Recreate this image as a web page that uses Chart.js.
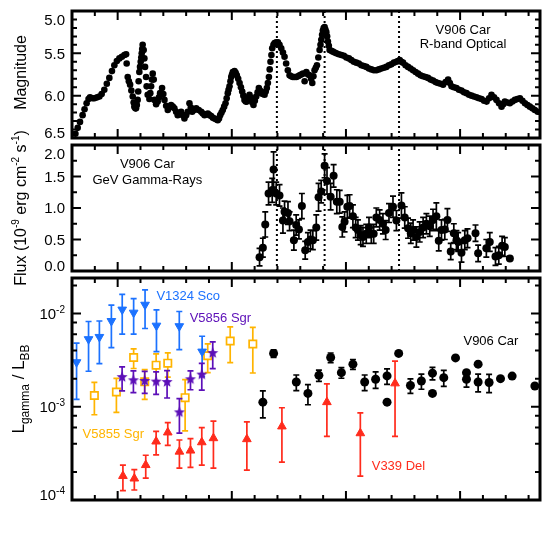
<!DOCTYPE html>
<html>
<head>
<meta charset="utf-8">
<script src="https://cdn.jsdelivr.net/npm/chart.js@4.4.0/dist/chart.umd.min.js"></script>
<style>
  html, body { margin: 0; padding: 0; background: #fff; }
  #wrap { position: relative; width: 554px; height: 554px; }
  #wrap canvas { position: absolute; left: 0; top: 0; }
</style>
</head>
<body>
<div id="wrap">
  <canvas id="optical" width="554" height="554"></canvas>
  <canvas id="gamma" width="554" height="554"></canvas>
  <canvas id="ratio" width="554" height="554"></canvas>
</div>
<script>
// V906 Car optical / gamma-ray light curves and gamma-to-optical ratio of several novae

// ---- shared x axis ----
const X_MIN = -4, X_MAX = 37;
const xTickLabels = [0, 10, 20, 30];
const peakDays = [13.95, 18.13, 24.65];   // dotted lines

// ---- top panel: R-band magnitude ----
const magTicks = [5.0, 5.5, 6.0, 6.5];
const optDay = [
  -3.95, -3.89, -3.7, -3.5, -3.3, -3.07, -2.9, -2.72, -2.55, -2.42, -2.2, -2.04, -1.8, -1.6, -1.4, -1.17,
  -0.95, -0.73, -0.5, -0.29, -0.07, 0.15, 0.37, 0.59, 0.74, 0.79, 0.88, 0.98, 1.09, 1.2, 1.32, 1.4,
  1.46, 1.55, 1.61, 1.68, 1.75, 1.8, 1.84, 1.9, 1.96, 2.02, 2.07, 2.11, 2.15, 2.19, 2.28, 2.34,
  2.4, 2.49, 2.54, 2.63, 2.78, 2.86, 2.93, 3.0, 3.07, 3.16, 3.22, 3.37, 3.51, 3.62, 3.72, 3.89,
  4.0, 4.1, 4.25, 4.39, 4.53, 4.68, 4.83, 4.97, 5.12, 5.26, 5.41, 5.56, 5.7, 5.85, 6.0, 6.14,
  6.29, 6.41, 6.53, 6.7, 6.88, 7.1, 7.32, 7.46, 7.61, 7.75, 7.9, 8.05, 8.19, 8.34, 8.48, 8.62,
  8.77, 8.88, 8.98, 9.1, 9.21, 9.33, 9.45, 9.55, 9.65, 9.72, 9.8, 9.88, 9.95, 10.02, 10.09, 10.24,
  10.34, 10.44, 10.56, 10.68, 10.8, 10.91, 11.01, 11.11, 11.22, 11.32, 11.45, 11.55, 11.62, 11.7, 11.8, 11.9,
  12.02, 12.14, 12.26, 12.37, 12.48, 12.58, 12.72, 12.87, 12.97, 13.07, 13.16, 13.25, 13.32, 13.39, 13.47, 13.54,
  13.65, 13.75, 13.9, 14.04, 14.18, 14.33, 14.48, 14.62, 14.76, 14.91, 15.06, 15.2, 15.35, 15.5, 15.65, 15.8,
  15.94, 16.08, 16.23, 16.38, 16.53, 16.68, 16.82, 16.95, 17.05, 17.15, 17.25, 17.36, 17.46, 17.58, 17.69, 17.77,
  17.84, 17.91, 17.98, 18.05, 18.13, 18.2, 18.28, 18.35, 18.42, 18.5, 18.57, 18.72, 18.86, 19.01, 19.16, 19.38,
  19.6, 19.82, 20.04, 20.26, 20.47, 20.69, 20.91, 21.13, 21.35, 21.57, 21.79, 22.01, 22.23, 22.45, 22.67, 22.88,
  23.1, 23.32, 23.54, 23.76, 23.98, 24.2, 24.42, 24.56, 24.71, 24.85, 25.0, 25.22, 25.44, 25.66, 25.88, 26.1,
  26.32, 26.53, 26.75, 26.97, 27.19, 27.41, 27.63, 27.85, 28.07, 28.29, 28.51, 28.73, 28.95, 29.1, 29.25, 29.46,
  29.68, 29.9, 30.12, 30.34, 30.56, 30.78, 31.0, 31.22, 31.44, 31.66, 31.88, 32.1, 32.32, 32.54, 32.75, 32.97,
  33.19, 33.41, 33.63, 33.78, 33.92, 34.14, 34.36, 34.58, 34.8, 35.02, 35.24, 35.46, 35.68, 35.9, 36.11, 36.33,
  36.55, 36.8
];
const optMag = [
  6.56, 6.52, 6.45, 6.38, 6.31, 6.23, 6.16, 6.09, 6.04, 6.02, 6.03, 6.03, 6.02, 6.01, 5.98, 5.93,
  5.86, 5.79, 5.71, 5.64, 5.59, 5.56, 5.54, 5.52, 5.51, 5.62, 5.78, 5.83, 5.87, 5.94, 6.01, 6.08,
  6.13, 6.15, 6.15, 6.11, 6.05, 5.95, 5.83, 5.72, 5.66, 5.60, 5.55, 5.50, 5.45, 5.40, 5.46, 5.56,
  5.66, 5.78, 5.89, 5.99, 6.04, 5.97, 5.89, 5.81, 5.74, 5.81, 6.05, 6.10, 6.07, 6.02, 5.97, 5.91,
  5.98, 6.05, 6.12, 6.17, 6.14, 6.11, 6.13, 6.15, 6.19, 6.23, 6.21, 6.19, 6.23, 6.27, 6.23, 6.19,
  6.09, 6.14, 6.19, 6.17, 6.15, 6.17, 6.19, 6.21, 6.23, 6.22, 6.21, 6.23, 6.24, 6.26, 6.27, 6.28,
  6.29, 6.27, 6.23, 6.20, 6.17, 6.13, 6.09, 6.03, 5.97, 5.93, 5.89, 5.83, 5.78, 5.75, 5.72, 5.71,
  5.73, 5.76, 5.80, 5.85, 5.90, 5.95, 6.00, 6.05, 6.07, 6.07, 6.02, 5.99, 6.02, 6.05, 6.08, 6.11,
  6.06, 6.01, 5.96, 5.91, 5.94, 5.97, 5.98, 5.99, 5.95, 5.91, 5.85, 5.78, 5.69, 5.60, 5.52, 5.44,
  5.40, 5.38, 5.37, 5.37, 5.40, 5.44, 5.49, 5.54, 5.62, 5.70, 5.76, 5.77, 5.78, 5.78, 5.78, 5.77,
  5.76, 5.75, 5.74, 5.83, 5.72, 5.75, 5.76, 5.80, 5.85, 5.77, 5.70, 5.67, 5.64, 5.55, 5.46, 5.40,
  5.34, 5.28, 5.23, 5.20, 5.19, 5.22, 5.25, 5.30, 5.36, 5.41, 5.46, 5.47, 5.48, 5.49, 5.50, 5.51,
  5.52, 5.53, 5.55, 5.56, 5.58, 5.60, 5.61, 5.62, 5.64, 5.65, 5.66, 5.68, 5.69, 5.70, 5.70, 5.69,
  5.68, 5.67, 5.66, 5.64, 5.63, 5.61, 5.60, 5.59, 5.58, 5.60, 5.61, 5.64, 5.66, 5.68, 5.70, 5.72,
  5.74, 5.76, 5.77, 5.78, 5.79, 5.81, 5.82, 5.84, 5.85, 5.86, 5.87, 5.84, 5.81, 5.85, 5.89, 5.90,
  5.91, 5.93, 5.94, 5.96, 5.97, 5.99, 6.00, 6.01, 6.02, 6.03, 6.04, 6.06, 6.07, 6.03, 5.99, 6.02,
  6.05, 6.09, 6.13, 6.10, 6.07, 6.08, 6.09, 6.07, 6.05, 6.04, 6.03, 6.06, 6.09, 6.11, 6.13, 6.15,
  6.17, 6.19
];

// ---- middle panel: GeV gamma-ray flux (1e-9 erg/cm2/s) ----
const fluxTicks = [0.0, 0.5, 1.0, 1.5, 2.0];
const gamDay = [
  12.43, 12.72, 12.93, 13.22, 13.54, 13.66, 13.89, 14.18, 14.48, 14.62, 14.92, 15.06, 15.44, 15.64, 15.88, 16.14,
  16.43, 16.67, 16.9, 17.1, 17.4, 17.6, 17.83, 18.13, 18.34, 18.66, 18.92, 19.2, 19.45, 19.68, 19.88, 20.12,
  20.32, 20.61, 20.85, 21.05, 21.29, 21.49, 21.78, 22.02, 22.22, 22.43, 22.66, 22.95, 23.24, 23.48, 23.77, 24.12,
  24.42, 24.86, 25.15, 25.44, 25.68, 25.88, 26.17, 26.46, 26.76, 27.05, 27.34, 27.63, 27.92, 28.13, 28.37, 28.66,
  28.89, 29.18, 29.45, 29.68, 29.83, 30.12, 30.41, 30.65, 31.35, 31.58, 32.3, 32.6, 33.1, 33.39, 33.68, 33.92,
  34.36
];
const gamFlux = [
  0.22, 0.37, 0.74, 1.23, 1.28, 1.61, 1.23, 1.20, 0.80, 0.94, 0.92, 0.79, 0.49, 0.73, 0.66, 1.03,
  0.33, 0.46, 0.50, 0.49, 0.69, 1.17, 1.26, 1.67, 1.43, 1.18, 1.51, 1.10, 1.10, 0.70, 0.78, 1.02,
  1.03, 0.87, 0.69, 0.65, 0.57, 0.54, 0.59, 0.69, 0.59, 0.59, 0.85, 0.81, 0.75, 0.65, 0.92, 1.02,
  0.80, 1.04, 0.85, 0.68, 0.60, 0.65, 0.54, 0.62, 0.69, 0.75, 0.71, 0.81, 0.87, 0.48, 0.65, 0.66,
  0.81, 0.31, 0.60, 0.49, 0.46, 0.29, 0.49, 0.52, 0.60, 0.28, 0.36, 0.46, 0.23, 0.25, 0.40, 0.38,
  0.20
];
const gamErr = [
  0.14, 0.15, 0.20, 0.18, 0.19, 0.28, 0.18, 0.17, 0.20, 0.17, 0.18, 0.15, 0.16, 0.16, 0.15, 0.20,
  0.14, 0.15, 0.15, 0.15, 0.20, 0.22, 0.18, 0.19, 0.21, 0.21, 0.18, 0.19, 0.18, 0.16, 0.16, 0.18,
  0.18, 0.18, 0.16, 0.16, 0.15, 0.15, 0.15, 0.16, 0.15, 0.15, 0.15, 0.16, 0.16, 0.15, 0.15, 0.17,
  0.16, 0.20, 0.17, 0.16, 0.16, 0.16, 0.16, 0.16, 0.16, 0.16, 0.16, 0.17, 0.21, 0.16, 0.16, 0.16,
  0.18, 0.13, 0.15, 0.15, 0.15, 0.15, 0.15, 0.15, 0.13, 0.13, 0.14, 0.15, 0.14, 0.14, 0.15, 0.15,
  0
];

// ---- bottom panel: L_gamma / L_BB ----
const ratioTicks = [1e-4, 1e-3, 1e-2];

const scoDay = [-3.6, -2.55, -1.6, -0.55, 0.4, 1.4, 2.4, 3.4, 5.4, 7.4];            // V1324 Sco
const scoVal = [3.0e-3, 5.3e-3, 5.6e-3, 8.3e-3, 1.1e-2, 1.02e-2, 1.24e-2, 7.4e-3, 7.3e-3, 3.9e-3];
const scoErr = [1.8e-3, 2.9e-3, 2.7e-3, 4.0e-3, 5.0e-3, 4.2e-3, 5.5e-3, 3.5e-3, 3.2e-3, 1.8e-3];

const sgr6Day = [0.39, 1.38, 2.37, 3.37, 4.33, 5.41, 6.38, 7.37, 8.33];              // V5856 Sgr
const sgr6Val = [2.08e-3, 1.92e-3, 1.89e-3, 1.86e-3, 1.84e-3, 8.7e-4, 1.97e-3, 2.21e-3, 3.76e-3];
const sgr6Err = [0.6e-3, 0.5e-3, 0.5e-3, 0.5e-3, 0.6e-3, 0.35e-3, 0.45e-3, 0.7e-3, 1.2e-3];

const sgr5Day = [-2.04, -0.11, 1.4, 2.37, 3.37, 4.39, 5.91, 7.89, 9.86, 11.84];       // V5855 Sgr
const sgr5Val = [1.32e-3, 1.44e-3, 3.37e-3, 1.85e-3, 2.79e-3, 2.93e-3, 1.25e-3, 3.52e-3, 5.07e-3, 4.7e-3];
const sgr5Err = [0.5e-3, 0.57e-3, 0.8e-3, 0.65e-3, 0.9e-3, 0.85e-3, 0.7e-3, 1.2e-3, 2.1e-3, 2.4e-3];

const delDay = [0.46, 1.46, 2.46, 3.37, 4.39, 5.41, 6.38, 7.37, 8.39, 11.32, 14.39, 18.33, 21.26, 24.3];   // V339 Del
const delVal = [1.81e-4, 1.7e-4, 2.37e-4, 4.24e-4, 5.3e-4, 3.3e-4, 3.39e-4, 4.16e-4, 4.6e-4, 4.49e-4, 6.15e-4, 1.12e-3, 5.2e-4, 1.78e-3];
const delErr = [0.55e-4, 0.42e-4, 0.65e-4, 1.2e-4, 1.45e-4, 1.1e-4, 1.15e-4, 1.8e-4, 2.4e-4, 2.4e-4, 3.6e-4, 6.4e-4, 3.4e-4, 1.3e-3];

const carDay = [12.72, 13.66, 15.65, 16.67, 17.63, 18.66, 19.6, 20.61, 21.64, 22.6, 23.6, 23.6, 24.62, 25.65,
  26.61, 27.58, 27.58, 28.57, 29.6, 30.56, 30.56, 31.58, 31.58, 32.54, 33.54, 34.56, 36.55];            // V906 Car
const carVal = [1.12e-3, 3.73e-3, 1.84e-3, 1.39e-3, 2.17e-3, 3.37e-3, 2.32e-3, 2.86e-3, 1.84e-3, 1.97e-3, 2.14e-3, 1.12e-3, 3.73e-3, 1.69e-3,
  1.89e-3, 2.29e-3, 1.39e-3, 2.05e-3, 3.34e-3, 2.32e-3, 1.97e-3, 2.86e-3, 1.84e-3, 1.82e-3, 2.0e-3, 2.13e-3, 1.67e-3];
const carErr = [0.36e-3, 0.35e-3, 0.35e-3, 0.34e-3, 0.3e-3, 0.4e-3, 0.3e-3, 0.35e-3, 0.35e-3, 0.4e-3, 0.4e-3, 0, 0, 0.3e-3,
  0.35e-3, 0.35e-3, 0, 0.4e-3, 0, 0, 0.35e-3, 0, 0.4e-3, 0.4e-3, 0, 0, 0];

// ---- styles ----
const FONT = "'Liberation Sans', Arial, Helvetica, sans-serif";
const BLUE = '#1c72ff', PURPLE = '#5c0fb8', GOLD = '#ffb400', RED = '#ff2b1c';

Chart.defaults.font.family = FONT;
Chart.defaults.color = '#000';

const pts = (xs, ys) => xs.map((x, i) => ({ x: x, y: ys[i] }));

function starImage(color, r) {
  const c = document.createElement('canvas');
  const s = Math.ceil(r * 2 + 2);
  c.width = c.height = s;
  const g = c.getContext('2d');
  g.fillStyle = color;
  g.beginPath();
  for (let i = 0; i < 10; i++) {
    const rad = i % 2 ? r * 0.45 : r;
    const a = -Math.PI / 2 + i * Math.PI / 5;
    g.lineTo(s / 2 + rad * Math.cos(a), s / 2 + rad * Math.sin(a));
  }
  g.closePath();
  g.fill();
  return c;
}

// text with sub/superscripts: parts = [[text, size, 'sup'|'sub'|undefined], ...]
function drawRich(ctx, parts, x, y, align, rotate) {
  const main = parts[0][1];
  ctx.save();
  ctx.translate(x, y);
  if (rotate) ctx.rotate(-Math.PI / 2);
  let w = 0;
  parts.forEach(p => { ctx.font = p[1] + 'px ' + FONT; w += ctx.measureText(p[0]).width; });
  let cx = align === 'right' ? -w : align === 'center' ? -w / 2 : 0;
  const base = 0.36 * main;
  ctx.textAlign = 'left';
  ctx.textBaseline = 'alphabetic';
  parts.forEach(p => {
    ctx.font = p[1] + 'px ' + FONT;
    const dy = p[2] === 'sup' ? -0.42 * main : p[2] === 'sub' ? 0.3 * main : 0;
    ctx.fillText(p[0], cx, base + dy);
    cx += ctx.measureText(p[0]).width;
  });
  ctx.restore();
}

// error bars drawn under each dataset's markers
const errorBars = {
  id: 'errorBars',
  beforeDatasetDraw(chart, args) {
    const ds = chart.data.datasets[args.index];
    if (!ds.errors) return;
    const ctx = chart.ctx, a = chart.chartArea;
    const xs = chart.scales.x, ys = chart.scales.y;
    ctx.save();
    ctx.beginPath();
    ctx.rect(a.left, a.top, a.width, a.height);
    ctx.clip();
    ctx.strokeStyle = ds.errorColor;
    ctx.lineWidth = 1.7;
    ctx.beginPath();
    ds.data.forEach((p, i) => {
      const e = ds.errors[i];
      if (!e) return;
      const px = xs.getPixelForValue(p.x);
      const y1 = ys.getPixelForValue(p.y - e), y2 = ys.getPixelForValue(p.y + e);
      ctx.moveTo(px, y1); ctx.lineTo(px, y2);
      ctx.moveTo(px - 3, y1); ctx.lineTo(px + 3, y1);
      ctx.moveTo(px - 3, y2); ctx.lineTo(px + 3, y2);
    });
    ctx.stroke();
    ctx.restore();
  }
};

// frame, inward ticks, tick labels, axis titles and in-panel captions
function decor(cfg) {
  return {
    id: 'decor',
    afterDraw(chart) {
      const ctx = chart.ctx, a = chart.chartArea;
      const xs = chart.scales.x, ys = chart.scales.y;
      ctx.save();
      ctx.strokeStyle = '#000';
      ctx.fillStyle = '#000';
      ctx.lineWidth = 2;
      ctx.beginPath();
      for (let v = X_MIN + 2; v < X_MAX; v += 2) {
        const px = xs.getPixelForValue(v);
        const len = xTickLabels.includes(v) ? 9 : 5;
        ctx.moveTo(px, a.bottom); ctx.lineTo(px, a.bottom - len);
        ctx.moveTo(px, a.top); ctx.lineTo(px, a.top + len);
      }
      const yTick = (v, len) => {
        const py = ys.getPixelForValue(v);
        if (py < a.top + 1 || py > a.bottom - 1) return;
        ctx.moveTo(a.left, py); ctx.lineTo(a.left + len, py);
        ctx.moveTo(a.right, py); ctx.lineTo(a.right - len, py);
      };
      cfg.yMajor.forEach(v => yTick(v, 9));
      cfg.yMinor.forEach(v => yTick(v, 5));
      ctx.stroke();

      ctx.lineWidth = 3;
      ctx.strokeRect(a.left, a.top, a.width, a.height);

      cfg.yMajor.forEach(v => {
        let py = ys.getPixelForValue(v);
        py = Math.min(Math.max(py, a.top + 9), a.bottom - 5);
        drawRich(ctx, cfg.yLabel(v), 65, py, 'right', false);
      });

      if (cfg.xLabels) {
        ctx.font = '15px ' + FONT;
        ctx.textAlign = 'center';
        ctx.textBaseline = 'middle';
        xTickLabels.forEach(v => ctx.fillText(String(v), xs.getPixelForValue(v), 527));
        ctx.font = '17px ' + FONT;
        ctx.fillText('Time from Optical Peak (days)', (a.left + a.right) / 2, 545);
      }

      drawRich(ctx, cfg.title, cfg.titleX, (a.top + a.bottom) / 2 + (cfg.titleDy || 0), 'center', true);

      ctx.font = '13px ' + FONT;
      ctx.textAlign = 'center';
      ctx.textBaseline = 'middle';
      cfg.texts.forEach(t => {
        ctx.fillStyle = t.color || '#000';
        ctx.fillText(t.text, xs.getPixelForValue(t.x), ys.getPixelForValue(t.y));
      });
      ctx.restore();
    }
  };
}

function makePanel(id, datasets, yScale, padding, cfg) {
  return new Chart(document.getElementById(id), {
    type: 'scatter',
    data: { datasets: datasets },
    options: {
      responsive: false,
      animation: false,
      events: [],
      layout: { padding: padding, autoPadding: false },
      plugins: { legend: { display: false }, tooltip: { enabled: false } },
      scales: {
        x: { type: 'linear', display: false, min: X_MIN, max: X_MAX },
        y: Object.assign({ display: false }, yScale)
      }
    },
    plugins: [errorBars, decor(cfg)]
  });
}

function peakLines(yMin, yMax) {
  return peakDays.map(d => ({
    type: 'line',
    data: [{ x: d, y: yMin }, { x: d, y: yMax }],
    showLine: true,
    borderColor: '#000',
    borderWidth: 2,
    borderDash: [2, 3],
    pointRadius: 0,
    order: 5
  }));
}

const steps = (from, to, step, skip) => {
  const out = [];
  for (let v = from; v <= to + 1e-9; v += step) {
    const r = Math.round(v * 100) / 100;
    if (!skip.some(s => Math.abs(s - r) < 1e-6)) out.push(r);
  }
  return out;
};

// ---- top panel ----
makePanel('optical', [
  {
    data: pts(optDay, optMag),
    pointRadius: 3.3,
    pointBackgroundColor: '#000',
    pointBorderWidth: 0
  }
].concat(peakLines(5.0, 6.5)),
  { type: 'linear', min: 5.0, max: 6.5, reverse: true },
  { left: 72, right: 14, top: 11, bottom: 554 - 138 },
  {
    yMajor: magTicks,
    yMinor: steps(5.0, 6.5, 0.1, magTicks),
    yLabel: v => [[v.toFixed(1), 15]],
    title: [['Magnitude', 16]],
    titleX: 20,
    titleDy: -2,
    texts: [
      { text: 'V906 Car', x: 30.26, y: 5.225 },
      { text: 'R-band Optical', x: 30.26, y: 5.40 }
    ]
  });

// ---- middle panel ----
makePanel('gamma', [
  {
    data: pts(gamDay, gamFlux),
    errors: gamErr,
    errorColor: '#000',
    pointRadius: 4,
    pointBackgroundColor: '#000',
    pointBorderWidth: 0
  }
].concat(peakLines(0, 2.0)),
  { type: 'linear', min: 0, max: 2.0 },
  { left: 72, right: 14, top: 145, bottom: 554 - 271 },
  {
    yMajor: fluxTicks,
    yMinor: steps(0, 2.0, 0.25, fluxTicks),
    yLabel: v => [[v.toFixed(1), 15]],
    title: [['Flux (10', 16], ['-9', 10, 'sup'], [' erg cm', 16], ['-2', 10, 'sup'], [' s', 16], ['-1', 10, 'sup'], [')', 16]],
    titleX: 20,
    texts: [
      { text: 'V906 Car', x: 2.6, y: 1.69 },
      { text: 'GeV Gamma-Rays', x: 2.6, y: 1.44 }
    ]
  });

// ---- bottom panel ----
const ratioMinor = [];
ratioTicks.forEach(d => [2, 4, 6, 8].forEach(m => ratioMinor.push(d * m)));

makePanel('ratio', [
  {
    data: pts(carDay, carVal), errors: carErr, errorColor: '#000',
    pointRadius: 4.5, pointBackgroundColor: '#000', pointBorderWidth: 0
  },
  {
    data: pts(sgr6Day, sgr6Val), errors: sgr6Err, errorColor: PURPLE,
    pointStyle: starImage(PURPLE, 5.8), pointRadius: 6
  },
  {
    data: pts(scoDay, scoVal), errors: scoErr, errorColor: BLUE,
    pointStyle: 'triangle', rotation: 180, pointRadius: 5,
    pointBackgroundColor: BLUE, pointBorderColor: BLUE, pointBorderWidth: 1
  },
  {
    data: pts(sgr5Day, sgr5Val), errors: sgr5Err, errorColor: GOLD,
    pointStyle: 'rect', pointRadius: 5.2,
    pointBackgroundColor: '#fff', pointBorderColor: GOLD, pointBorderWidth: 1.7
  },
  {
    data: pts(delDay, delVal), errors: delErr, errorColor: RED,
    pointStyle: 'triangle', pointRadius: 5,
    pointBackgroundColor: RED, pointBorderColor: RED, pointBorderWidth: 1
  }
],
  { type: 'logarithmic', min: 1e-4, max: 0.024 },
  { left: 72, right: 14, top: 278, bottom: 54 },
  {
    yMajor: ratioTicks,
    yMinor: ratioMinor,
    yLabel: v => [['10', 15], [String(Math.round(Math.log10(v))), 10, 'sup']],
    title: [['L', 17], ['gamma', 12, 'sub'], [' / L', 17], ['BB', 12, 'sub']],
    titleX: 18,
    texts: [
      { text: 'V1324 Sco', x: 6.18, y: 1.53e-2, color: BLUE },
      { text: 'V5856 Sgr', x: 9.0, y: 8.84e-3, color: PURPLE },
      { text: 'V906 Car', x: 32.7, y: 4.97e-3 },
      { text: 'V5855 Sgr', x: -0.38, y: 5.05e-4, color: GOLD },
      { text: 'V339 Del', x: 24.6, y: 2.27e-4, color: RED }
    ]
  });
</script>
</body>
</html>
